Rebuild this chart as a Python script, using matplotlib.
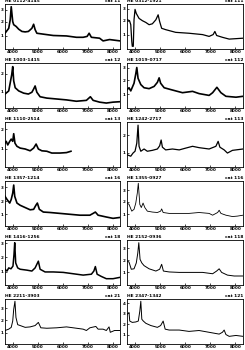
import matplotlib
matplotlib.use("Agg")
import matplotlib.pyplot as plt

# =========================
# DATOS (longitud de onda en A, flujo en unidades arbitrarias)
# =========================
names = ["HE 0112-4145", "HE 1003-1415", "HE 1110-2514", "HE 1357-1214",
         "HE 1416-1256", "HE 2211-3903",
         "HE 0312-1921", "HE 1019-0717", "HE 1242-2717", "HE 1355-0927",
         "HE 2152-0936", "HE 2347-1342"]
tags = ["cat 11", "cat 12", "cat 13", "cat 16", "cat 18", "cat 21",
        "cat 111", "cat 112", "cat 113", "cat 116", "cat 118", "cat 121"]

w1 = [3680, 3830, 3890, 3930, 3990, 4030, 4130, 4230, 4360, 4490, 4620, 4760, 4830, 4890,
      4960, 5220, 5620, 6150, 6550, 6820, 6980, 7060, 7150, 7480, 7620, 7880, 8300]
f1 = [35, 46, 65, 94, 61, 54, 50, 44, 39, 38, 39, 46, 55, 43,
      35, 33, 30, 29, 26, 26, 28, 35, 26, 24, 18, 21, 18]

w3 = [3680, 3830, 3890, 3950, 3990, 4030, 4090, 4230, 4430, 4620, 4760, 4830, 4890, 4960,
      5090, 5360, 5760, 6150, 6550, 6950, 7110, 7220, 7480, 7750, 8020, 8300]
f3 = [31, 38, 56, 74, 92, 60, 45, 38, 33, 31, 35, 42, 49, 35,
      25, 22, 20, 18, 15, 17, 25, 17, 13, 11, 13, 14]

w5 = [3680, 3730, 3790, 3870, 3930, 3990, 4030, 4080, 4160, 4290, 4490, 4690, 4830, 4930,
      5020, 5160, 5360, 5560, 5890, 6150, 6330]
f5 = [53, 57, 49, 57, 62, 57, 74, 53, 46, 42, 40, 36, 42, 51,
      40, 36, 35, 31, 31, 32, 35]

w7 = [3680, 3760, 3870, 3930, 3990, 4030, 4070, 4160, 4290, 4490, 4690, 4830, 4920, 4980,
      5060, 5220, 5490, 5890, 6290, 6690, 7090, 7220, 7310, 7420, 7750, 8020, 8300]
f7 = [66, 59, 51, 59, 73, 91, 66, 51, 46, 41, 36, 37, 46, 51,
      37, 31, 30, 28, 26, 24, 24, 28, 31, 24, 20, 17, 19]

w9 = [3680, 3760, 3830, 3920, 4000, 4040, 4070, 4110, 4190, 4290, 4560, 4760, 4890, 5020,
      5090, 5290, 5620, 6020, 6420, 6820, 7150, 7250, 7310, 7380, 7550, 7750, 8020, 8300]
f9 = [35, 31, 38, 36, 42, 67, 94, 49, 38, 35, 33, 31, 38, 53,
      35, 29, 29, 28, 25, 22, 24, 31, 41, 24, 19, 14, 14, 17]

w11 = [3680, 3830, 3930, 3990, 4030, 4080, 4120, 4190, 4290, 4490, 4690, 4890, 5020, 5120,
       5360, 5760, 6150, 6420, 6820, 6950, 7090, 7330, 7420, 7620, 7750, 7860, 7910, 8080, 8300]
f11 = [30, 33, 37, 51, 77, 95, 59, 43, 41, 37, 38, 41, 48, 36,
       35, 36, 38, 36, 33, 30, 36, 39, 33, 33, 30, 38, 26, 30, 30]

w2 = [3690, 3780, 3830, 3870, 3890, 3930, 3960, 4000, 4050, 4160, 4290, 4430, 4560, 4690,
      4830, 4920, 4980, 5060, 5220, 5620, 6150, 6690, 6950, 7110, 7180, 7250, 7480, 7750, 8300]
f2 = [65, 63, 54, 17, 6, 6, 65, 88, 79, 68, 63, 59, 54, 56,
      65, 76, 61, 46, 43, 37, 35, 32, 28, 32, 39, 30, 26, 22, 24]

w4 = [3690, 3760, 3830, 3960, 4030, 4070, 4120, 4230, 4360, 4560, 4760, 4890, 4960, 5020,
      5160, 5420, 5620, 5890, 6290, 6550, 6950, 7090, 7260, 7420, 7620, 8020, 8300]
f4 = [41, 45, 38, 55, 76, 90, 66, 52, 45, 43, 48, 57, 67, 55,
      45, 41, 38, 34, 37, 32, 28, 34, 46, 34, 26, 24, 26]

w6 = [3690, 3830, 3920, 4000, 4070, 4120, 4160, 4230, 4360, 4490, 4690, 4890, 4980, 5040,
      5090, 5220, 5490, 5760, 6020, 6290, 6550, 6950, 7220, 7310, 7380, 7550, 7680, 7880, 8300]
f6 = [27, 24, 31, 35, 53, 93, 46, 35, 40, 35, 37, 40, 47, 60,
      44, 38, 40, 38, 42, 46, 43, 40, 46, 57, 44, 38, 31, 37, 40]

w8 = [3690, 3760, 3870, 3960, 4030, 4090, 4130, 4190, 4250, 4320, 4390, 4490, 4690, 4890,
      5020, 5060, 5120, 5360, 5760, 6150, 6550, 6950, 7090, 7290, 7350, 7420, 7620, 7880,
      8080, 8300]
f8 = [51, 48, 33, 37, 51, 73, 95, 48, 41, 51, 41, 33, 31, 30,
      33, 38, 30, 28, 28, 28, 30, 28, 24, 30, 35, 28, 24, 21,
      22, 24]

w10 = [3690, 3760, 3850, 3960, 4050, 4110, 4150, 4200, 4270, 4360, 4560, 4830, 4980, 5060,
       5130, 5360, 5760, 6150, 6690, 7090, 7250, 7350, 7450, 7680, 7950, 8300]
f10 = [53, 51, 35, 36, 49, 71, 94, 57, 49, 43, 36, 31, 35, 46,
       31, 29, 28, 28, 28, 25, 31, 36, 28, 22, 20, 20]

w12 = [3690, 3760, 3790, 3890, 4030, 4130, 4190, 4230, 4270, 4330, 4430, 4630, 4890, 5020,
       5120, 5200, 5360, 5760, 6150, 6550, 6950, 7350, 7480, 7550, 7620, 7750, 8020, 8300]
f12 = [66, 70, 51, 48, 49, 51, 73, 95, 55, 51, 46, 41, 37, 41,
       51, 33, 31, 31, 28, 30, 26, 22, 26, 31, 21, 17, 19, 17]

waves = [w1, w3, w5, w7, w9, w11, w2, w4, w6, w8, w10, w12]
fluxes = [f1, f3, f5, f7, f9, f11, f2, f4, f6, f8, f10, f12]
yticks = [[29, 61, 87], [36, 76], [40, 84], [26, 55, 86], [29, 62, 93], [25, 53, 79],
          [32, 63, 90], [30, 62, 90], [32, 71], [26, 54, 80], [28, 55, 82], [21, 44, 68, 91]]
xticks = [4000, 5000, 6000, 7000, 8000]
grosor = [1.2, 1.2, 1.2, 1.2, 1.1, 0.7, 0.9, 1.2, 0.9, 0.6, 0.7, 0.7]

# =========================
# FIGURA
# =========================
W, H = 245, 350
fig = plt.figure(figsize=(W/100, H/100), dpi=100)

for i in range(12):
    col = i // 6
    row = i % 6
    x0 = 5 if col == 0 else 127
    ancho = 115 if col == 0 else 116
    top = 4 + 59*row
    ax = fig.add_axes([x0/W, 1 - (top + 45)/H, ancho/W, 45/H])
    ax.plot(waves[i], fluxes[i], 'k', lw=grosor[i])
    ax.set_xlim(3680, 8300)
    ax.set_ylim(0, 100)
    ax.set_xticks(xticks)
    ax.set_xticklabels([str(t) for t in xticks], fontsize=3, fontweight='bold')
    ax.set_yticks(yticks[i])
    ax.set_yticklabels([str(k+1) for k in range(len(yticks[i]))], fontsize=3,
                       fontweight='bold')
    ax.tick_params(direction='in', length=1.5, width=0.5, pad=0.8)
    for s in ax.spines.values():
        s.set_linewidth(0.6)
    ax.text(0.0, 1.02, names[i], transform=ax.transAxes, fontsize=3.2,
            fontweight='bold', ha='left', va='bottom')
    ax.text(1.0, 1.02, tags[i], transform=ax.transAxes, fontsize=3.2,
            fontweight='bold', ha='right', va='bottom')

fig.savefig("out.png", dpi=100)
